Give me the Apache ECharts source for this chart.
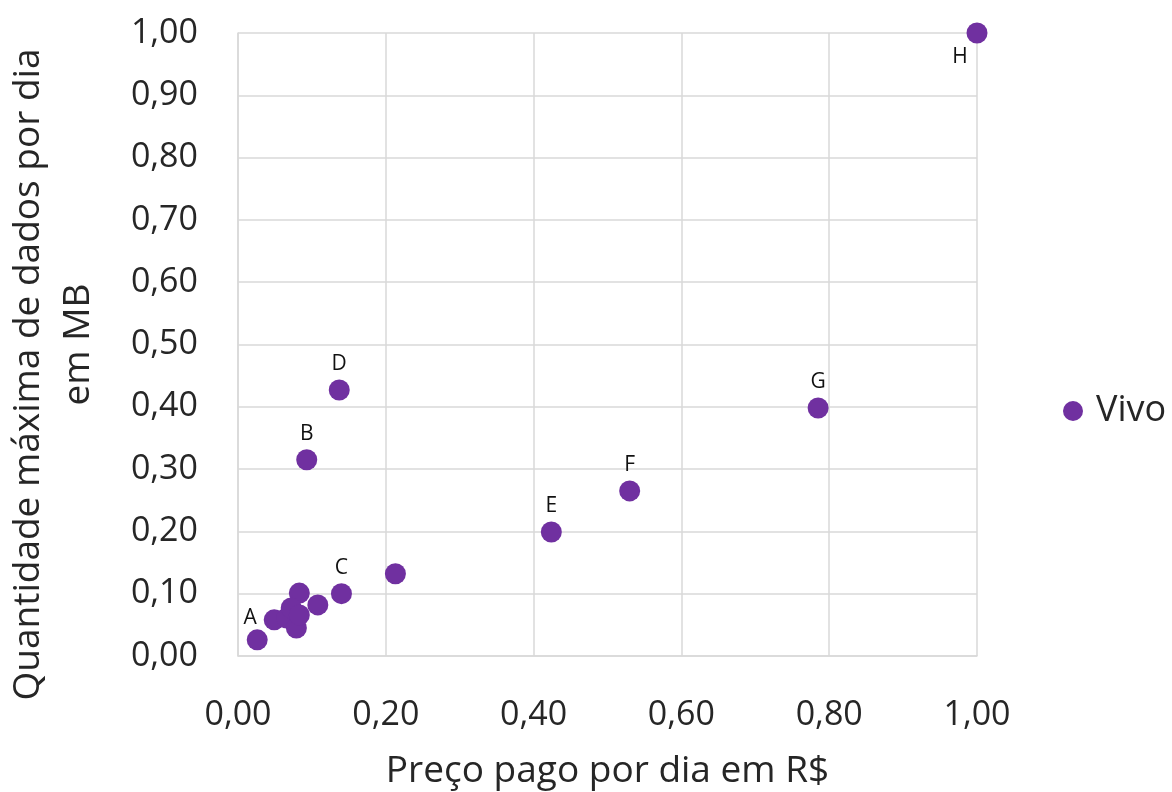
<!DOCTYPE html>
<html>
<head>
<meta charset="utf-8">
<script src="https://cdn.jsdelivr.net/npm/echarts@6/dist/echarts.min.js"></script>
<style>
  html, body { margin: 0; padding: 0; background: #fff; }
  #chart { width: 1172px; height: 792px; }
</style>
</head>
<body>
<div id="chart"></div>
<script>
// Preço pago por dia (R$) e quantidade máxima de dados por dia (MB), normalizados
const precoDia = [0.026, 0.049, 0.066, 0.079, 0.083, 0.072, 0.083, 0.108, 0.140, 0.213, 0.093, 0.137, 0.424, 0.530, 0.785, 1.000];
const dadosDia = [0.026, 0.058, 0.061, 0.045, 0.101, 0.077, 0.066, 0.082, 0.100, 0.132, 0.315, 0.427, 0.199, 0.265, 0.398, 1.000];
const rotulos  = ['A',   '',    '',    '',    '',    '',    '',    '',    'C',   '',    'B',   'D',   'E',   'F',   'G',   'H'];
const serieNome = 'Vivo';
const eixoX = 'Preço pago por dia em R$';
const eixoYLinha1 = 'Quantidade máxima de dados por dia';
const eixoYLinha2 = 'em MB';

const FONT = 'Open Sans';
const COR = '#7030A0';
const TXT = '#262626';

function fmt(v) { return v.toFixed(2).replace('.', ','); }

const pontos = precoDia.map((x, i) => {
  const p = { value: [x, dadosDia[i]] };
  if (rotulos[i]) {
    let pos = 'top';
    let off = [0, 0];
    if (rotulos[i] === 'A') off = [-7, 4];
    if (rotulos[i] === 'H') { pos = 'bottom'; off = [-17, -2]; }
    p.label = { show: true, formatter: rotulos[i], position: pos, offset: off };
  }
  return p;
});

const tituloY = { fontFamily: FONT, fontSize: 37, color: TXT, lineHeight: 50 };

const chart = echarts.init(document.getElementById('chart'), null, { renderer: 'canvas' });
chart.setOption({
  animation: false,
  backgroundColor: '#fff',
  textStyle: { fontFamily: FONT },
  grid: { left: 238, right: 195, top: 33, bottom: 136, containLabel: false, outerBoundsMode: 'none' },
  legend: {
    data: [serieNome],
    orient: 'vertical',
    left: 1063,
    top: 393,
    icon: 'circle',
    itemWidth: 20,
    itemHeight: 20,
    padding: 0,
    textStyle: { fontFamily: FONT, fontSize: 36, color: TXT, padding: [0, 0, 0, 8] }
  },
  xAxis: {
    type: 'value',
    min: 0, max: 1, interval: 0.2,
    name: eixoX,
    nameLocation: 'middle',
    nameGap: 97,
    nameTextStyle: { fontFamily: FONT, fontSize: 37, color: TXT },
    axisLine: { show: true, lineStyle: { color: '#d9d9d9', width: 1.5 } },
    axisTick: { show: false },
    splitLine: { show: true, lineStyle: { color: '#d9d9d9', width: 1.5 } },
    axisLabel: { formatter: fmt, fontFamily: FONT, fontSize: 34, color: TXT, margin: 42 }
  },
  yAxis: {
    type: 'value',
    min: 0, max: 1, interval: 0.1,
    name: '{a|' + eixoYLinha1 + '}\n{b|' + eixoYLinha2 + '}',
    nameLocation: 'middle',
    nameGap: 135,
    nameTextStyle: Object.assign({}, tituloY, {
      rich: {
        a: Object.assign({}, tituloY, { padding: [0, 60, 0, 0] }),
        b: Object.assign({}, tituloY)
      }
    }),
    axisLine: { show: true, lineStyle: { color: '#d9d9d9', width: 1.5 } },
    axisTick: { show: false },
    splitLine: { show: true, lineStyle: { color: '#d9d9d9', width: 1.5 } },
    axisLabel: { formatter: fmt, fontFamily: FONT, fontSize: 34, color: TXT, margin: 40 }
  },
  series: [{
    name: serieNome,
    type: 'scatter',
    symbol: 'circle',
    symbolSize: 21,
    itemStyle: { color: COR, opacity: 1 },
    label: { fontFamily: FONT, fontSize: 21, color: '#111', distance: 5 },
    data: pontos
  }]
});
</script>
</body>
</html>
